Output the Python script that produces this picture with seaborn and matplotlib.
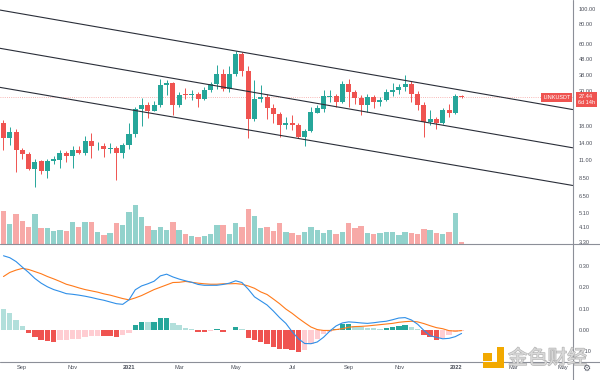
import numpy as np
import pandas as pd
import matplotlib
matplotlib.use("Agg")
import matplotlib.pyplot as plt
import seaborn as sns
from matplotlib.ticker import NullLocator
from matplotlib.lines import Line2D
from matplotlib.patches import Rectangle
import matplotlib.patheffects as pe

# ---------------- data ----------------
symbol = "LINKUSDT"
countdown = "6d 14h"
last_price = 27.44

open_ = [18.8, 15.1, 16.5, 12.7, 12.0, 9.7, 10.8, 9.4, 10.9, 11.0,
         12.2, 11.6, 12.7, 12.2, 14.5, 13.4, 13.5, 12.9, 13.1, 12.2,
         13.7, 16.2, 23.3, 24.7, 22.5, 24.5, 32.7, 33.8, 24.5, 28.8,
         28.3, 28.9, 26.7, 30.4, 33.5, 38.7, 31.0, 38.7, 51.8, 40.2,
         19.9, 26.7, 27.6, 23.4, 21.5, 18.3, 19.0, 18.3, 15.4, 16.7,
         22.0, 23.2, 27.8, 28.0, 25.8, 33.4, 29.6, 27.4, 24.5, 27.6,
         25.6, 26.5, 29.7, 30.4, 32.0, 33.5, 29.0, 24.5, 19.3, 20.0,
         18.8, 22.8, 21.8, 27.9]
high = [19.7, 17.7, 17.2, 13.2, 12.3, 11.1, 11.0, 11.2, 11.6, 12.8,
        12.5, 13.5, 13.4, 15.6, 16.4, 14.4, 14.0, 14.1, 13.4, 14.1,
        18.8, 23.7, 27.1, 25.8, 26.0, 36.0, 35.2, 34.6, 29.9, 31.5,
        30.5, 29.7, 31.8, 34.6, 44.4, 41.9, 43.7, 54.3, 53.0, 43.7,
        35.2, 32.7, 29.0, 25.0, 22.1, 20.7, 21.2, 18.9, 17.2, 23.9,
        24.5, 30.4, 30.4, 29.0, 34.7, 36.0, 30.4, 28.3, 29.0, 28.5,
        27.5, 31.0, 33.8, 33.5, 38.0, 35.0, 30.0, 25.5, 23.0, 20.5,
        23.5, 25.0, 29.0, 28.3]
low = [12.8, 13.7, 9.2, 11.1, 9.5, 7.4, 8.9, 8.4, 10.4, 9.8,
       10.7, 9.8, 12.0, 11.8, 11.3, 12.7, 11.5, 12.2, 8.2, 11.3,
       13.0, 15.5, 18.0, 20.4, 22.4, 24.0, 28.3, 21.2, 24.0, 26.7,
       26.5, 23.7, 26.3, 29.7, 31.0, 30.2, 29.7, 37.5, 37.8, 15.1,
       19.5, 25.8, 20.0, 18.8, 15.4, 17.2, 17.0, 15.2, 13.4, 16.5,
       21.8, 22.1, 25.8, 24.0, 25.4, 24.0, 25.0, 21.2, 22.1, 23.5,
       24.2, 26.0, 28.0, 29.0, 30.0, 25.8, 22.8, 15.4, 18.3, 17.4,
       18.5, 20.5, 21.4, 27.2]
close = [15.1, 16.5, 12.7, 12.0, 9.7, 10.7, 9.4, 10.9, 11.1, 12.1,
         11.6, 12.7, 12.2, 14.5, 13.4, 13.5, 12.9, 13.1, 12.2, 13.7,
         16.2, 23.3, 24.7, 22.5, 24.7, 32.7, 33.8, 24.5, 28.5, 28.3,
         29.0, 26.7, 30.7, 33.5, 38.7, 31.0, 38.7, 51.8, 40.2, 19.9,
         26.7, 27.6, 23.4, 21.5, 18.3, 19.0, 18.3, 15.4, 16.7, 22.2,
         23.4, 27.9, 28.1, 25.8, 33.4, 29.6, 27.4, 24.5, 27.6, 25.6,
         26.5, 29.7, 30.4, 32.0, 33.5, 29.0, 24.5, 19.3, 20.0, 18.8,
         22.8, 21.8, 27.9, 27.44]
volume = [33, 20, 29.7, 23, 16.7, 29.7, 15.7, 16, 13.3, 14.3,
          12.7, 22.3, 16.7, 22.3, 22.3, 11.7, 9, 10.7, 20.7, 19.3,
          31.7, 39, 26.7, 18.3, 14.3, 17.3, 14, 21.7, 13.7, 9.7,
          8.3, 7, 8.3, 9.7, 18.7, 19.3, 10.3, 21, 16.7, 35,
          28, 15.7, 16.7, 13, 21, 11.7, 11, 9, 11.7, 17,
          13.7, 11, 14, 9.7, 12, 21, 15.7, 17.7, 11, 10,
          11.3, 11.7, 12.3, 9, 12, 11, 10.3, 14.7, 14, 11,
          10, 12, 31, 1.7]
macd = [0.347, 0.338, 0.320, 0.294, 0.269, 0.241, 0.219, 0.202, 0.189, 0.180,
        0.170, 0.167, 0.163, 0.158, 0.152, 0.145, 0.139, 0.131, 0.123, 0.120,
        0.141, 0.188, 0.206, 0.216, 0.228, 0.253, 0.261, 0.248, 0.238, 0.230,
        0.223, 0.213, 0.209, 0.209, 0.209, 0.213, 0.219, 0.230, 0.222, 0.191,
        0.155, 0.136, 0.117, 0.089, 0.058, 0.031, -0.008, -0.041, -0.063, -0.064,
        -0.056, -0.034, -0.005, 0.019, 0.033, 0.038, 0.036, 0.033, 0.031, 0.034,
        0.038, 0.041, 0.048, 0.056, 0.058, 0.047, 0.027, -0.002, -0.027, -0.034,
        -0.041, -0.039, -0.031, -0.016]
signal = [0.250, 0.269, 0.280, 0.288, 0.283, 0.273, 0.263, 0.250, 0.239, 0.227,
          0.214, 0.206, 0.197, 0.189, 0.183, 0.177, 0.169, 0.163, 0.155, 0.147,
          0.141, 0.150, 0.161, 0.175, 0.189, 0.200, 0.211, 0.222, 0.223, 0.227,
          0.223, 0.219, 0.216, 0.214, 0.214, 0.216, 0.216, 0.217, 0.214, 0.206,
          0.195, 0.178, 0.166, 0.145, 0.123, 0.098, 0.078, 0.055, 0.034, 0.014,
          0.002, -0.002, -0.002, 0.002, 0.006, 0.013, 0.016, 0.017, 0.019, 0.022,
          0.025, 0.028, 0.031, 0.036, 0.039, 0.041, 0.038, 0.030, 0.020, 0.011,
          0.006, -0.003, -0.005, -0.003]
hist = [0.097, 0.078, 0.045, 0.017, -0.014, -0.033, -0.048, -0.052, -0.056, -0.048,
        -0.045, -0.044, -0.041, -0.031, -0.028, -0.027, -0.028, -0.030, -0.033, -0.023,
        -0.014, 0.022, 0.039, 0.036, 0.039, 0.055, 0.057, 0.033, 0.022, 0.011,
        0.006, -0.008, -0.011, -0.006, 0.003, -0.008, -0.002, 0.016, 0.006, -0.036,
        -0.047, -0.056, -0.067, -0.080, -0.089, -0.091, -0.093, -0.102, -0.095, -0.067,
        -0.044, -0.020, -0.008, 0.003, 0.027, 0.030, 0.020, 0.013, 0.011, 0.008,
        0.006, 0.009, 0.013, 0.017, 0.023, 0.014, 0.003, -0.023, -0.033, -0.047,
        -0.036, -0.022, -0.009, -0.003]

price_ticks = [100, 80, 60, 48, 38, 30, 18, 14, 11, 8.5, 6.5, 5.1, 4.1, 3.3]
macd_ticks = [0.30, 0.20, 0.10, 0.00, -0.10]
month_labels = ["Sep", "Nov", "2021", "Mar", "May", "Jul", "Sep", "Nov", "2022", "Mar", "May"]
month_pos = [2.9, 11.0, 20.0, 27.95, 37.0, 46.0, 55.05, 63.05, 72.05, 81.2, 89.15]

channel_x = [-0.56, 90.7]
channel_upper = [98.5, 23.0]
channel_mid = [56.3, 13.15]
channel_lower = [31.8, 7.58]

# ---------------- style ----------------
UP, DOWN = "#26a69a", "#ef5350"
VUP, VDOWN = "#92d2cc", "#f7a9a7"
H_COLORS = {"up_strong": "#26a69a", "up_weak": "#b2dfdb",
            "down_weak": "#ffcdd2", "down_strong": "#ef5350"}
TXT = "#4a4e59"
SEP = "#8c8f98"

sns.set_theme(style="white")
plt.rcParams["font.family"] = ["Liberation Sans", "DejaVu Sans"]

W, H = 600, 380
fig = plt.figure(figsize=(6, 3.8), dpi=100)
fig.patch.set_facecolor("white")

right = 572.5 / W
price_rect = [0, 1 - 244 / H, right, 244 / H]
macd_rect = [0, 1 - 362 / H, right, 118 / H]

ax_v = fig.add_axes(price_rect, zorder=0)
ax_p = fig.add_axes(price_rect, zorder=1, sharex=ax_v)
ax_p.patch.set_alpha(0)
ax_m = fig.add_axes(macd_rect, zorder=1)

idx = np.arange(len(close))
o, c, h, l = map(np.array, (open_, close, high, low))
up = c >= o

# volume (overlay at the bottom of the price pane)
vol_df = pd.DataFrame({"idx": idx, "volume": volume,
                       "dir": np.where(up, "up", "down")})
sns.barplot(data=vol_df, x="idx", y="volume", hue="dir",
            palette={"up": VUP, "down": VDOWN}, native_scale=True,
            dodge=False, width=0.86, saturation=1, legend=False,
            linewidth=0, errorbar=None, ax=ax_v)
ax_v.set_ylim(0, max(volume) * 244 / 39)

# candles
col = np.where(up, UP, DOWN)
ax_p.vlines(idx, l, h, colors=col, linewidth=0.7, zorder=2)
bot = np.minimum(o, c)
top = np.maximum(np.maximum(o, c), bot * 1.012)
ax_p.bar(idx, top - bot, bottom=bot, width=0.8, color=col, linewidth=0, zorder=3)
ax_p.set_yscale("log")

# channel lines
for ys in (channel_upper, channel_mid, channel_lower):
    ax_p.plot(channel_x, ys, color="#2a2e39", linewidth=0.8, zorder=4)

# last price line
ax_p.axhline(last_price, color=DOWN, linewidth=0.6, linestyle=(0, (1, 1.6)),
             alpha=0.55, zorder=1)

# MACD pane
hist_cat = []
for i, v in enumerate(hist):
    prev = hist[i - 1] if i > 0 else v
    if v >= 0:
        hist_cat.append("up_strong" if v > prev else "up_weak")
    else:
        hist_cat.append("down_weak" if v > prev else "down_strong")
h_df = pd.DataFrame({"idx": idx, "hist": hist, "cat": hist_cat})
sns.barplot(data=h_df, x="idx", y="hist", hue="cat", palette=H_COLORS,
            native_scale=True, dodge=False, width=0.86, saturation=1,
            legend=False, linewidth=0, errorbar=None, ax=ax_m)
sns.lineplot(x=idx, y=signal, color="#ff7a1a", linewidth=0.8, ax=ax_m)
sns.lineplot(x=idx, y=macd, color="#2f8fe8", linewidth=0.8, ax=ax_m)

# ---------------- axes / ticks ----------------
xlim = (-0.557, 90.68)
for ax in (ax_v, ax_p, ax_m):
    ax.set_xlim(*xlim)
    ax.set_xlabel("")
    ax.set_ylabel("")
    for s in ax.spines.values():
        s.set_visible(False)
    ax.grid(False)

ax_v.set_yticks([])
ax_v.tick_params(axis="x", bottom=False, labelbottom=False)
ax_p.tick_params(axis="x", bottom=False, labelbottom=False)

ax_p.set_ylim(3.22, 114.1)
ax_p.yaxis.tick_right()
ax_p.yaxis.set_minor_locator(NullLocator())
ax_p.set_yticks(price_ticks)
ax_p.set_yticklabels([f"{t:.2f}" for t in price_ticks])
ax_p.tick_params(axis="y", which="both", length=0, pad=4.2, labelsize=4.1,
                 labelcolor=TXT, right=False, left=False)

ax_m.set_ylim(-0.1495, 0.402)
ax_m.yaxis.tick_right()
ax_m.set_yticks(macd_ticks)
ax_m.set_yticklabels([f"{t:.2f}" for t in macd_ticks])
ax_m.tick_params(axis="y", length=0, pad=4.2, labelsize=4.1, labelcolor=TXT,
                 right=False, left=False)
ax_m.set_xticks(month_pos)
ax_m.set_xticklabels(month_labels)
ax_m.tick_params(axis="x", length=0, pad=2.2, labelsize=4.1, labelcolor=TXT)
for lab in ax_m.get_xticklabels():
    if lab.get_text().isdigit():
        lab.set_fontweight("bold")

# separators
fig.add_artist(Line2D([right, right], [0, 1], color=SEP, linewidth=0.8, zorder=6))
for yy in (244, 362):
    fig.add_artist(Line2D([0, 1], [1 - yy / H, 1 - yy / H], color=SEP,
                          linewidth=0.8, zorder=6))

# price labels
ax_p.annotate(symbol, xy=(1, last_price), xycoords=("axes fraction", "data"),
              xytext=(-1.6, 0), textcoords="offset points", ha="right", va="center",
              fontsize=4, color="white", annotation_clip=False,
              bbox=dict(boxstyle="square,pad=0.3", fc=DOWN, ec="none"))
ax_p.annotate(f"{last_price:.2f}\n{countdown}", xy=(1, last_price),
              xycoords=("axes fraction", "data"), xytext=(4.2, 2.6),
              textcoords="offset points", ha="left", va="top", fontsize=4,
              linespacing=1.35, color="white", annotation_clip=False,
              bbox=dict(boxstyle="square,pad=0.35", fc=DOWN, ec="none"))

# watermark (site logo over the bottom-right corner)
wm_col = "#f2a900"
for (x0, y0, x1, y1) in [(482.7, 352.7, 491.7, 360.7), (496.7, 346.7, 504, 368.3),
                         (482.7, 361.5, 504, 368.3)]:
    fig.add_artist(Rectangle((x0 / W, 1 - y1 / H), (x1 - x0) / W, (y1 - y0) / H,
                             transform=fig.transFigure, fc=wm_col, ec="none",
                             zorder=10))
fig.text(508 / W, 1 - 358.5 / H, "金色财经", fontsize=14.2,
         family=["Noto Sans CJK SC", "DejaVu Sans"], color="#d9d9d9",
         ha="left", va="center", zorder=10,
         path_effects=[pe.withStroke(linewidth=0.9, foreground="#b3b3b3")])
fig.text(586.5 / W, 1 - 368.5 / H, "\u2699", fontsize=6.5, color="#555a66",
         family=["DejaVu Sans"], ha="center", va="center", zorder=10)

fig.savefig("out.png", dpi=100)
